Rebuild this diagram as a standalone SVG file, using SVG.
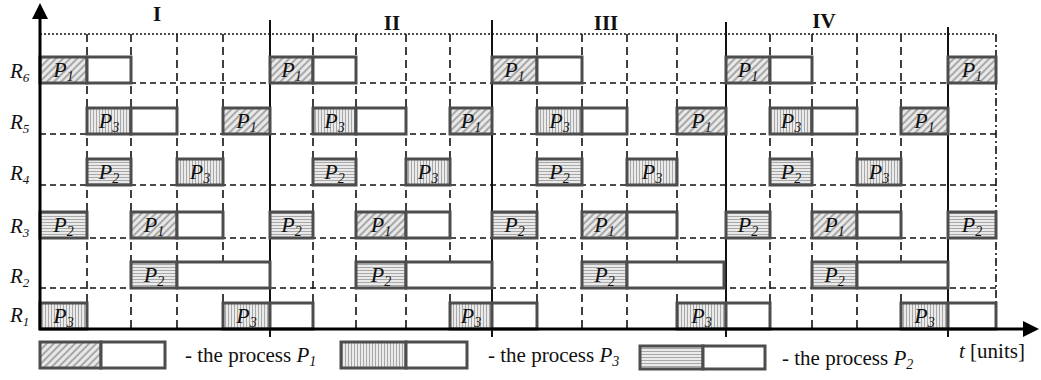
<svg xmlns="http://www.w3.org/2000/svg" width="1041" height="380" viewBox="0 0 1041 380">
<defs>
<pattern id="hP1" width="5" height="5" patternUnits="userSpaceOnUse" patternTransform="rotate(45)"><rect width="5" height="5" fill="#e8e8e8"/><rect width="2" height="5" fill="#a8a8a8"/></pattern>
<pattern id="hP3" width="3" height="3" patternUnits="userSpaceOnUse"><rect width="3" height="3" fill="#eaeaea"/><rect width="1" height="3" fill="#a8a8a8"/></pattern>
<pattern id="hP2" width="3" height="3" patternUnits="userSpaceOnUse"><rect width="3" height="3" fill="#eaeaea"/><rect width="3" height="1" fill="#a8a8a8"/></pattern>
<style>
.box{stroke:#4d4d4d;stroke-width:3}
.p1{fill:url(#hP1)} .p2{fill:url(#hP2)} .p3{fill:url(#hP3)} .w{fill:#fff}
.lbl{font-family:"Liberation Serif",serif;font-style:italic;font-size:22px;text-anchor:middle;fill:#111}
.s{font-size:14px}
.rl{font-family:"Liberation Serif",serif;font-style:italic;font-size:21px;fill:#111}
.rs{font-size:13px}
.per{font-family:"Liberation Serif",serif;font-weight:bold;font-size:21px;text-anchor:middle;fill:#111}
.leg{font-family:"Liberation Serif",serif;font-size:21px;fill:#111}
.dh{stroke:#111;stroke-width:1.6;stroke-dasharray:6 4;fill:none}
.dv{stroke:#111;stroke-width:1.6;stroke-dasharray:8 5;fill:none}
.sol{stroke:#111;stroke-width:2;fill:none}
</style>
</defs>
<rect width="1041" height="380" fill="#fff"/>

<g id="grid">
<line x1="40" y1="34" x2="996" y2="34" stroke="#111" stroke-width="1.4" stroke-dasharray="2 2"/>
<line x1="996" y1="34" x2="996" y2="329" stroke="#111" stroke-width="1.6" stroke-dasharray="8 3 2 3"/>
<g class="dh">
<line x1="40" y1="83" x2="996" y2="83"/>
<line x1="40" y1="134" x2="996" y2="134"/>
<line x1="40" y1="185" x2="996" y2="185"/>
<line x1="40" y1="238" x2="996" y2="238"/>
<line x1="40" y1="288" x2="996" y2="288"/>
</g>
<g class="dv">
<line x1="87" y1="34" x2="87" y2="332"/><line x1="131" y1="34" x2="131" y2="332"/><line x1="177" y1="34" x2="177" y2="332"/><line x1="223" y1="34" x2="223" y2="332"/>
<line x1="313" y1="34" x2="313" y2="332"/><line x1="356" y1="34" x2="356" y2="332"/><line x1="406" y1="34" x2="406" y2="332"/><line x1="450" y1="34" x2="450" y2="332"/>
<line x1="537" y1="34" x2="537" y2="332"/><line x1="582" y1="34" x2="582" y2="332"/><line x1="627" y1="34" x2="627" y2="332"/><line x1="677" y1="34" x2="677" y2="332"/>
<line x1="770" y1="34" x2="770" y2="332"/><line x1="812" y1="34" x2="812" y2="332"/><line x1="857" y1="34" x2="857" y2="332"/><line x1="901" y1="34" x2="901" y2="332"/>
</g>
<g class="sol">
<line x1="270" y1="20" x2="270" y2="337"/>
<line x1="492" y1="20" x2="492" y2="337"/>
<line x1="726" y1="22" x2="726" y2="337"/>
<line x1="948" y1="27" x2="948" y2="337"/>
</g>
</g>

<g id="periods">
<text class="per" x="157" y="21">I</text>
<text class="per" x="392" y="30">II</text>
<text class="per" x="606" y="30">III</text>
<text class="per" x="824" y="28">IV</text>
</g>

<g id="row-R6" class="box">
<rect class="p1" x="40" y="57" width="47" height="26"/><rect class="w" x="87" y="57" width="44" height="26"/>
<rect class="p1" x="270" y="57" width="43" height="26"/><rect class="w" x="313" y="57" width="43" height="26"/>
<rect class="p1" x="492" y="57" width="45" height="26"/><rect class="w" x="537" y="57" width="45" height="26"/>
<rect class="p1" x="726" y="57" width="44" height="26"/><rect class="w" x="770" y="57" width="42" height="26"/>
<rect class="p1" x="948" y="57" width="48" height="26"/>
</g>
<g id="row-R5" class="box">
<rect class="p3" x="87" y="108" width="44" height="26"/><rect class="w" x="131" y="108" width="46" height="26"/><rect class="p1" x="223" y="108" width="47" height="26"/>
<rect class="p3" x="313" y="108" width="43" height="26"/><rect class="w" x="356" y="108" width="50" height="26"/><rect class="p1" x="450" y="108" width="42" height="26"/>
<rect class="p3" x="537" y="108" width="45" height="26"/><rect class="w" x="582" y="108" width="45" height="26"/><rect class="p1" x="677" y="108" width="49" height="26"/>
<rect class="p3" x="770" y="108" width="42" height="26"/><rect class="w" x="812" y="108" width="45" height="26"/><rect class="p1" x="901" y="108" width="47" height="26"/>
</g>
<g id="row-R4" class="box">
<rect class="p2" x="87" y="159" width="44" height="26"/><rect class="p3" x="177" y="159" width="46" height="26"/>
<rect class="p2" x="313" y="159" width="43" height="26"/><rect class="p3" x="406" y="159" width="44" height="26"/>
<rect class="p2" x="537" y="159" width="45" height="26"/><rect class="p3" x="627" y="159" width="50" height="26"/>
<rect class="p2" x="770" y="159" width="42" height="26"/><rect class="p3" x="857" y="159" width="44" height="26"/>
</g>
<g id="row-R3" class="box">
<rect class="p2" x="40" y="212" width="47" height="26"/><rect class="p1" x="131" y="212" width="46" height="26"/><rect class="w" x="177" y="212" width="46" height="26"/>
<rect class="p2" x="270" y="212" width="43" height="26"/><rect class="p1" x="356" y="212" width="50" height="26"/><rect class="w" x="406" y="212" width="44" height="26"/>
<rect class="p2" x="492" y="212" width="45" height="26"/><rect class="p1" x="582" y="212" width="45" height="26"/><rect class="w" x="627" y="212" width="50" height="26"/>
<rect class="p2" x="726" y="212" width="44" height="26"/><rect class="p1" x="812" y="212" width="45" height="26"/><rect class="w" x="857" y="212" width="44" height="26"/>
<rect class="p2" x="948" y="212" width="48" height="26"/>
</g>
<g id="row-R2" class="box">
<rect class="p2" x="131" y="262" width="46" height="26"/><rect class="w" x="177" y="262" width="93" height="26"/>
<rect class="p2" x="356" y="262" width="50" height="26"/><rect class="w" x="406" y="262" width="86" height="26"/>
<rect class="p2" x="582" y="262" width="45" height="26"/><rect class="w" x="627" y="262" width="97" height="26"/>
<rect class="p2" x="812" y="262" width="45" height="26"/><rect class="w" x="857" y="262" width="91" height="26"/>
</g>
<g id="row-R1" class="box">
<rect class="p3" x="40" y="303" width="47" height="26"/>
<rect class="p3" x="223" y="303" width="47" height="26"/><rect class="w" x="270" y="303" width="43" height="26"/>
<rect class="p3" x="450" y="303" width="42" height="26"/><rect class="w" x="492" y="303" width="45" height="26"/>
<rect class="p3" x="677" y="303" width="49" height="26"/><rect class="w" x="726" y="303" width="44" height="26"/>
<rect class="p3" x="901" y="303" width="47" height="26"/><rect class="w" x="948" y="303" width="48" height="26"/>
</g>

<g id="box-labels">
<text class="lbl" x="63.5" y="77">P<tspan class="s" dy="4">1</tspan></text>
<text class="lbl" x="291.5" y="77">P<tspan class="s" dy="4">1</tspan></text>
<text class="lbl" x="514.5" y="77">P<tspan class="s" dy="4">1</tspan></text>
<text class="lbl" x="748" y="77">P<tspan class="s" dy="4">1</tspan></text>
<text class="lbl" x="972" y="77">P<tspan class="s" dy="4">1</tspan></text>

<text class="lbl" x="109" y="128">P<tspan class="s" dy="4">3</tspan></text>
<text class="lbl" x="246.5" y="128">P<tspan class="s" dy="4">1</tspan></text>
<text class="lbl" x="334.5" y="128">P<tspan class="s" dy="4">3</tspan></text>
<text class="lbl" x="471" y="128">P<tspan class="s" dy="4">1</tspan></text>
<text class="lbl" x="559.5" y="128">P<tspan class="s" dy="4">3</tspan></text>
<text class="lbl" x="701.5" y="128">P<tspan class="s" dy="4">1</tspan></text>
<text class="lbl" x="791" y="128">P<tspan class="s" dy="4">3</tspan></text>
<text class="lbl" x="924.5" y="128">P<tspan class="s" dy="4">1</tspan></text>

<text class="lbl" x="109" y="179">P<tspan class="s" dy="4">2</tspan></text>
<text class="lbl" x="200" y="179">P<tspan class="s" dy="4">3</tspan></text>
<text class="lbl" x="334.5" y="179">P<tspan class="s" dy="4">2</tspan></text>
<text class="lbl" x="428" y="179">P<tspan class="s" dy="4">3</tspan></text>
<text class="lbl" x="559.5" y="179">P<tspan class="s" dy="4">2</tspan></text>
<text class="lbl" x="652" y="179">P<tspan class="s" dy="4">3</tspan></text>
<text class="lbl" x="791" y="179">P<tspan class="s" dy="4">2</tspan></text>
<text class="lbl" x="879" y="179">P<tspan class="s" dy="4">3</tspan></text>

<text class="lbl" x="63.5" y="232">P<tspan class="s" dy="4">2</tspan></text>
<text class="lbl" x="154" y="232">P<tspan class="s" dy="4">1</tspan></text>
<text class="lbl" x="291.5" y="232">P<tspan class="s" dy="4">2</tspan></text>
<text class="lbl" x="381" y="232">P<tspan class="s" dy="4">1</tspan></text>
<text class="lbl" x="514.5" y="232">P<tspan class="s" dy="4">2</tspan></text>
<text class="lbl" x="604.5" y="232">P<tspan class="s" dy="4">1</tspan></text>
<text class="lbl" x="748" y="232">P<tspan class="s" dy="4">2</tspan></text>
<text class="lbl" x="834.5" y="232">P<tspan class="s" dy="4">1</tspan></text>
<text class="lbl" x="972" y="232">P<tspan class="s" dy="4">2</tspan></text>

<text class="lbl" x="154" y="282">P<tspan class="s" dy="4">2</tspan></text>
<text class="lbl" x="381" y="282">P<tspan class="s" dy="4">2</tspan></text>
<text class="lbl" x="604.5" y="282">P<tspan class="s" dy="4">2</tspan></text>
<text class="lbl" x="834.5" y="282">P<tspan class="s" dy="4">2</tspan></text>

<text class="lbl" x="63.5" y="323">P<tspan class="s" dy="4">3</tspan></text>
<text class="lbl" x="246.5" y="323">P<tspan class="s" dy="4">3</tspan></text>
<text class="lbl" x="471" y="323">P<tspan class="s" dy="4">3</tspan></text>
<text class="lbl" x="701.5" y="323">P<tspan class="s" dy="4">3</tspan></text>
<text class="lbl" x="924.5" y="323">P<tspan class="s" dy="4">3</tspan></text>
</g>

<g id="row-labels">
<text class="rl" x="10" y="78">R<tspan class="rs" dy="4">6</tspan></text>
<text class="rl" x="10" y="129">R<tspan class="rs" dy="4">5</tspan></text>
<text class="rl" x="10" y="180">R<tspan class="rs" dy="4">4</tspan></text>
<text class="rl" x="10" y="233">R<tspan class="rs" dy="4">3</tspan></text>
<text class="rl" x="10" y="283">R<tspan class="rs" dy="4">2</tspan></text>
<text class="rl" x="10" y="322">R<tspan class="rs" dy="4">1</tspan></text>
</g>

<g id="axes">
<line x1="40" y1="330" x2="40" y2="16" stroke="#000" stroke-width="3"/>
<polygon points="40,3 32,19 48,19" fill="#000"/>
<line x1="39" y1="329" x2="1026" y2="329" stroke="#000" stroke-width="3"/>
<polygon points="1039,329 1023,321 1023,337" fill="#000"/>
<text class="leg" x="959" y="358"><tspan font-style="italic">t</tspan> [units]</text>
</g>

<g id="legend">
<g class="box">
<rect class="p1" x="40" y="342" width="61" height="26"/><rect class="w" x="101" y="342" width="64" height="26"/>
<rect class="p3" x="341" y="342" width="65" height="26"/><rect class="w" x="406" y="342" width="61" height="26"/>
<rect class="p2" x="640" y="346" width="63" height="23"/><rect class="w" x="703" y="346" width="62" height="23"/>
</g>
<text class="leg" x="185" y="362">- the process <tspan font-style="italic">P</tspan><tspan font-style="italic" font-size="14" dy="4">1</tspan></text>
<text class="leg" x="488" y="362">- the process <tspan font-style="italic">P</tspan><tspan font-style="italic" font-size="14" dy="4">3</tspan></text>
<text class="leg" x="782" y="365">- the process <tspan font-style="italic">P</tspan><tspan font-style="italic" font-size="14" dy="4">2</tspan></text>
</g>
</svg>
